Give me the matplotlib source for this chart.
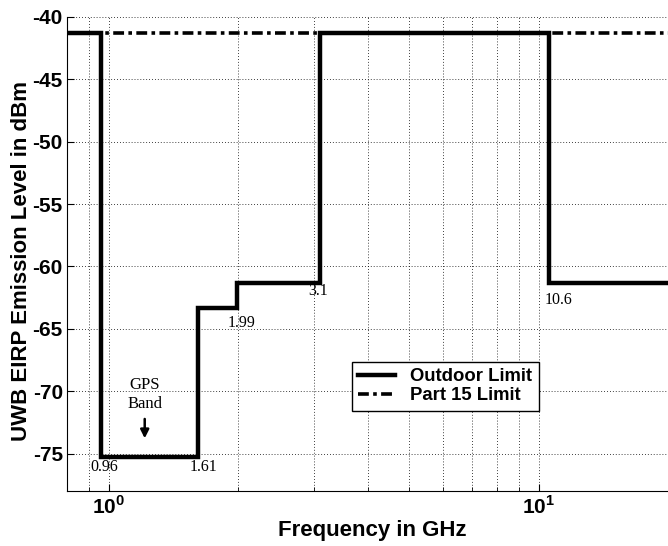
import math
import matplotlib.pyplot as plt
from matplotlib.ticker import FixedLocator, FuncFormatter, LogLocator, NullFormatter

plt.rcParams['font.family'] = 'Liberation Sans'
plt.rcParams['axes.unicode_minus'] = False
plt.rcParams['mathtext.fontset'] = 'custom'
plt.rcParams['mathtext.rm'] = 'Liberation Sans:bold'
plt.rcParams['mathtext.bf'] = 'Liberation Sans:bold'

# outdoor UWB mask (step edges in GHz, level in dBm)
edges = [0.8, 0.96, 1.61, 1.99, 3.1, 10.6, 20.0]
outdoor = [-41.3, -75.3, -63.3, -61.3, -41.3, -61.3, -61.3]
part15_f = [0.8, 20.0]
part15 = [-41.3, -41.3]

# edge labels: text, x, y
edge_labels = ['0.96', '1.61', '1.99', '3.1', '10.6']
label_x = [0.975, 1.665, 2.04, 3.07, 11.1]
label_y = [-76.1, -76.1, -64.5, -62.0, -62.7]

yticks = [-75, -70, -65, -60, -55, -50, -45, -40]

fig = plt.figure(figsize=(6.68, 5.46), dpi=100)
ax = fig.add_axes([0.1003, 0.1007, 0.8997, 0.8682])

ax.plot(edges, outdoor, color='black', lw=3.2, drawstyle='steps-post',
        label='Outdoor Limit', solid_joinstyle='miter', zorder=3)
ax.plot(part15_f, part15, color='black', lw=2.6, ls=(0, (3, 1.2, 1, 1.2)),
        label='Part 15 Limit', zorder=2)

ax.set_xscale('log')
ax.set_xlim(0.8, 20.0)
ax.set_ylim(-78, -40)

ax.xaxis.set_major_locator(FixedLocator([1, 10]))
ax.xaxis.set_major_formatter(FuncFormatter(lambda v, p: r'$10^{%d}$' % round(math.log10(v))))
ax.xaxis.set_minor_locator(LogLocator(base=10, subs=range(2, 10)))
ax.xaxis.set_minor_formatter(NullFormatter())
ax.set_yticks(yticks)

ax.grid(True, which='major', color='black', ls=(0, (1, 2.5)), lw=0.6)
ax.grid(True, which='minor', axis='x', color='black', ls=(0, (1, 2.5)), lw=0.6)
ax.tick_params(which='both', direction='in', top=False, right=False)
ax.tick_params(which='major', length=5, labelsize=15, pad=3)
ax.tick_params(which='minor', length=3)
for lab in ax.get_yticklabels():
    lab.set_fontweight('bold')

ax.spines['top'].set_visible(False)
ax.spines['right'].set_visible(False)

ax.set_xlabel('Frequency in GHz', fontsize=16, fontweight='bold')
ax.set_ylabel('UWB EIRP Emission Level in dBm', fontsize=16, fontweight='bold')
ax.xaxis.set_label_coords(0.508, -0.062)
ax.yaxis.set_label_coords(-0.058, 0.485)

for t, x, y in zip(edge_labels, label_x, label_y):
    ax.text(x, y, t, family='Liberation Serif', fontsize=11.5, ha='center', va='center')

ax.text(1.213, -70.3, 'GPS\nBand', family='Liberation Serif', fontsize=12,
        ha='center', va='center', linespacing=1.25)
ax.annotate('', xy=(1.213, -74.0), xytext=(1.213, -72.0),
            arrowprops=dict(arrowstyle='-|>,head_width=0.25,head_length=0.5',
                            color='black', lw=1.8))

leg = ax.legend(loc='upper left', bbox_to_anchor=(352 / 668, 1 - 362 / 546),
                bbox_transform=fig.transFigure, fancybox=False, framealpha=1,
                edgecolor='black', prop={'weight': 'bold', 'size': 13.3},
                handlelength=2.0, borderpad=0.35, labelspacing=0.1,
                borderaxespad=0, handletextpad=0.8)
leg.get_frame().set_linewidth(1.0)

fig.savefig('out.png', dpi=100)
